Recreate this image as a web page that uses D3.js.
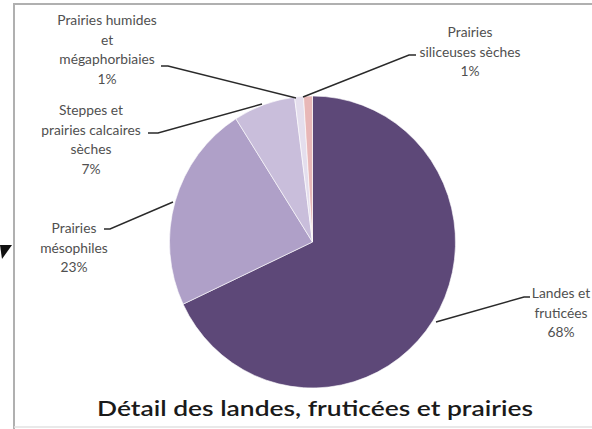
<!DOCTYPE html>
<html>
<head>
<meta charset="utf-8">
<script src="https://cdn.jsdelivr.net/npm/d3@7"></script>
<style>
  body { margin: 0; background: #fff; }
  svg { display: block; }
</style>
</head>
<body>
<svg width="592" height="429"></svg>
<script>
// slices, clockwise from 12 o'clock
const categories = [
    "Landes et fruticées",
    "Prairies mésophiles",
    "Steppes et prairies calcaires sèches",
    "Prairies humides et mégaphorbiaies",
    "Prairies siliceuses sèches"
]
const values = [68, 23, 7, 1, 1]
const labelLines = [
    ["Landes et", "fruticées", "68%"],
    ["Prairies", "mésophiles", "23%"],
    ["Steppes et", "prairies calcaires", "sèches", "7%"],
    ["Prairies humides", "et", "mégaphorbiaies", "1%"],
    ["Prairies", "siliceuses sèches", "1%"]
]
const colors = ["#5d4878", "#afa0c8", "#c9bedb", "#e4deed", "#e8b7b7"]
const title = "Détail des landes, fruticées et prairies"

const svg = d3.select('svg'),
    width = +svg.attr("width"),
    height = +svg.attr("height");

// frame of the chart area
svg.append('path')
    .attr('d', 'M14,429 L14,4 L592,4')
    .attr('fill', 'none')
    .attr('stroke', '#b0b0b0')
    .attr('stroke-width', 2)
svg.append('line')
    .attr('x1', 14).attr('x2', width).attr('y1', 427).attr('y2', 427)
    .attr('stroke', '#e2e2e2').attr('stroke-width', 1.5)

// stray arrow head on the left
svg.append('path')
    .attr('d', 'M0,245 L12,245 L2,259 Z')
    .attr('fill', '#111')

const cx = 312.5, cy = 242, rx = 143, ry = 146

const pie = d3.pie().sort(null).value(d => d)
const arcs = pie(values)
const arc = d3.arc().innerRadius(0).outerRadius(rx)

const g = svg.append('g')
    .attr('transform', `translate(${cx},${cy}) scale(1,${ry / rx})`)

g.selectAll('path')
    .data(arcs)
    .enter().append('path')
    .attr('d', arc)
    .attr('fill', (d, i) => colors[i])
    .attr('stroke', '#fff')
    .attr('stroke-width', 0.6)

// label positions (centre x, first line y) and leader lines
const labelPos = [
    [561, 298], [74, 233], [91, 115], [107, 25], [470, 37]
]
const leaders = [
    [[436, 322], [524, 297], [530, 297]],
    [[173, 202], [110, 229], [104, 229]],
    [[262, 104], [158, 133], [148, 133]],
    [[296, 98], [168, 66], [161, 66]],
    [[303, 97], [409, 55], [416, 55]]
]

svg.append('g')
    .selectAll('path')
    .data(leaders)
    .enter().append('path')
    .attr('d', d3.line())
    .attr('fill', 'none')
    .attr('stroke', '#2a2a2a')
    .attr('stroke-width', 1.4)

const labels = svg.append('g')
    .selectAll('text')
    .data(labelLines)
    .enter().append('text')
    .attr('x', (d, i) => labelPos[i][0])
    .attr('y', (d, i) => labelPos[i][1])
    .attr('text-anchor', 'middle')
    .attr('font-family', 'Lato, "Open Sans", sans-serif')
    .attr('font-size', 13.8)
    .attr('fill', '#505050')

labels.each(function(lines, i) {
    d3.select(this).selectAll('tspan')
        .data(lines)
        .enter().append('tspan')
        .attr('x', labelPos[i][0])
        .attr('dy', (l, j) => j === 0 ? 0 : 19.5)
        .text(l => l)
})

svg.append('text')
    .attr('x', 315)
    .attr('y', 416)
    .attr('text-anchor', 'middle')
    .attr('font-family', 'Lato, "Open Sans", sans-serif')
    .attr('font-size', 21.5)
    .attr('font-weight', 600)
    .attr('fill', '#1a1a1a')
    .attr('textLength', 436)
    .attr('lengthAdjust', 'spacingAndGlyphs')
    .text(title)
</script>
</body>
</html>
